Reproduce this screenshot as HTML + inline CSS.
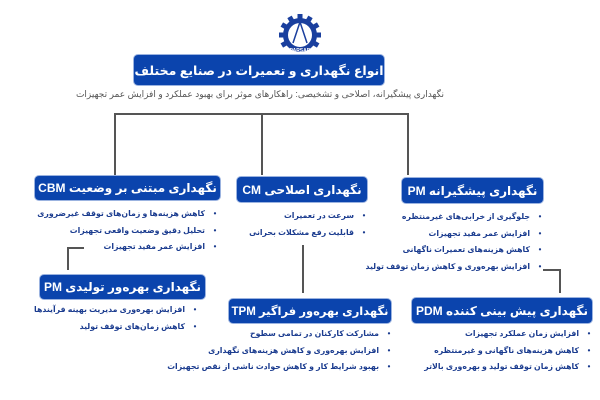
<!DOCTYPE html>
<html><head><meta charset="utf-8"><style>
body{margin:0;width:600px;height:400px;background:#fff;position:relative;overflow:hidden;font-family:"Liberation Sans","DejaVu Sans",sans-serif}
.b{position:absolute;background:#0b44ad;color:#fff;font-weight:bold;font-size:12px;border-radius:4px;display:flex;align-items:center;justify-content:center;direction:rtl;white-space:nowrap;box-shadow:0 0 0 1px #9bb3e0}
.l{position:absolute;direction:rtl;font-size:7.8px;font-weight:bold;color:#1b3c8f;white-space:nowrap;text-align:right}
.l div{height:16.5px;line-height:16.5px}
.l div:before{content:"•";display:inline-block;width:10px;margin-left:5px;text-align:center;color:#1b3c8f}
.ln{position:absolute;background:#555}
</style></head><body>
<svg style="position:absolute;left:278px;top:13px" width="44" height="44" viewBox="0 0 44 44">
<g fill="#1a3f9e"><circle cx="22" cy="22" r="17"/>
<g id="t"><rect x="19.5" y="1" width="5" height="6"/></g>
<use href="#t" transform="rotate(30 22 22)"/><use href="#t" transform="rotate(60 22 22)"/><use href="#t" transform="rotate(90 22 22)"/><use href="#t" transform="rotate(-30 22 22)"/><use href="#t" transform="rotate(-60 22 22)"/><use href="#t" transform="rotate(-90 22 22)"/><use href="#t" transform="rotate(120 22 22)"/><use href="#t" transform="rotate(-120 22 22)"/></g>
<circle cx="22" cy="22" r="12" fill="#fff"/>
<path d="M22 9 L15 30 M22 9 L29 30" stroke="#1a3f9e" stroke-width="1.5" fill="none"/>
<text x="22" y="39" font-size="5" fill="#fff" text-anchor="middle" font-family="Liberation Sans" font-weight="bold">PARSAR</text>
</svg>
<div class="b" style="left:134px;top:55px;width:250px;height:30px;font-size:12.5px">انواع نگهداری و تعمیرات در صنایع مختلف</div>
<div style="position:absolute;left:0;width:520px;top:89px;text-align:center;direction:rtl;font-size:9px;color:#555">نگهداری پیشگیرانه، اصلاحی و تشخیصی: راهکارهای موثر برای بهبود عملکرد و افزایش عمر تجهیزات</div>
<div class="ln" style="left:114px;top:113px;width:294px;height:1.5px"></div>
<div class="ln" style="left:114px;top:113px;width:1.5px;height:62px"></div>
<div class="ln" style="left:261px;top:113px;width:1.5px;height:62px"></div>
<div class="ln" style="left:407px;top:113px;width:1.5px;height:62px"></div>
<div class="ln" style="left:67px;top:247px;width:17px;height:1.5px"></div>
<div class="ln" style="left:67px;top:247px;width:1.5px;height:23px"></div>
<div class="ln" style="left:302px;top:245px;width:1.5px;height:48px"></div>
<div class="ln" style="left:543px;top:269px;width:17px;height:1.5px"></div>
<div class="ln" style="left:559px;top:269px;width:1.5px;height:24px"></div>
<div class="b" style="left:35px;top:176px;width:185px;height:24px">نگهداری مبتنی بر وضعیت CBM</div>
<div class="b" style="left:237px;top:177px;width:130px;height:25px">نگهداری اصلاحی CM</div>
<div class="b" style="left:402px;top:178px;width:141px;height:25px">نگهداری پیشگیرانه PM</div>
<div class="b" style="left:40px;top:275px;width:165px;height:24px">نگهداری بهره‌ور تولیدی PM</div>
<div class="b" style="left:229px;top:299px;width:162px;height:24px;font-size:11.5px">نگهداری بهره‌ور فراگیر TPM</div>
<div class="b" style="left:412px;top:298px;width:180px;height:25px">نگهداری پیش بینی کننده PDM</div>
<div class="l" style="right:380px;top:206px"><div>کاهش هزینه‌ها و زمان‌های توقف غیرضروری</div><div>تحلیل دقیق وضعیت واقعی تجهیزات</div><div>افزایش عمر مفید تجهیزات</div></div>
<div class="l" style="right:231px;top:208px"><div>سرعت در تعمیرات</div><div>قابلیت رفع مشکلات بحرانی</div></div>
<div class="l" style="right:55px;top:209px"><div>جلوگیری از خرابی‌های غیرمنتظره</div><div>افزایش عمر مفید تجهیزات</div><div>کاهش هزینه‌های تعمیرات ناگهانی</div><div>افزایش بهره‌وری و کاهش زمان توقف تولید</div></div>
<div class="l" style="right:400px;top:302px"><div>افزایش بهره‌وری مدیریت بهینه فرآیندها</div><div>کاهش زمان‌های توقف تولید</div></div>
<div class="l" style="right:206px;top:326px"><div>مشارکت کارکنان در تمامی سطوح</div><div>افزایش بهره‌وری و کاهش هزینه‌های نگهداری</div><div>بهبود شرایط کار و کاهش حوادث ناشی از نقص تجهیزات</div></div>
<div class="l" style="right:6px;top:326px"><div>افزایش زمان عملکرد تجهیزات</div><div>کاهش هزینه‌های ناگهانی و غیرمنتظره</div><div>کاهش زمان توقف تولید و بهره‌وری بالاتر</div></div>
</body></html>
